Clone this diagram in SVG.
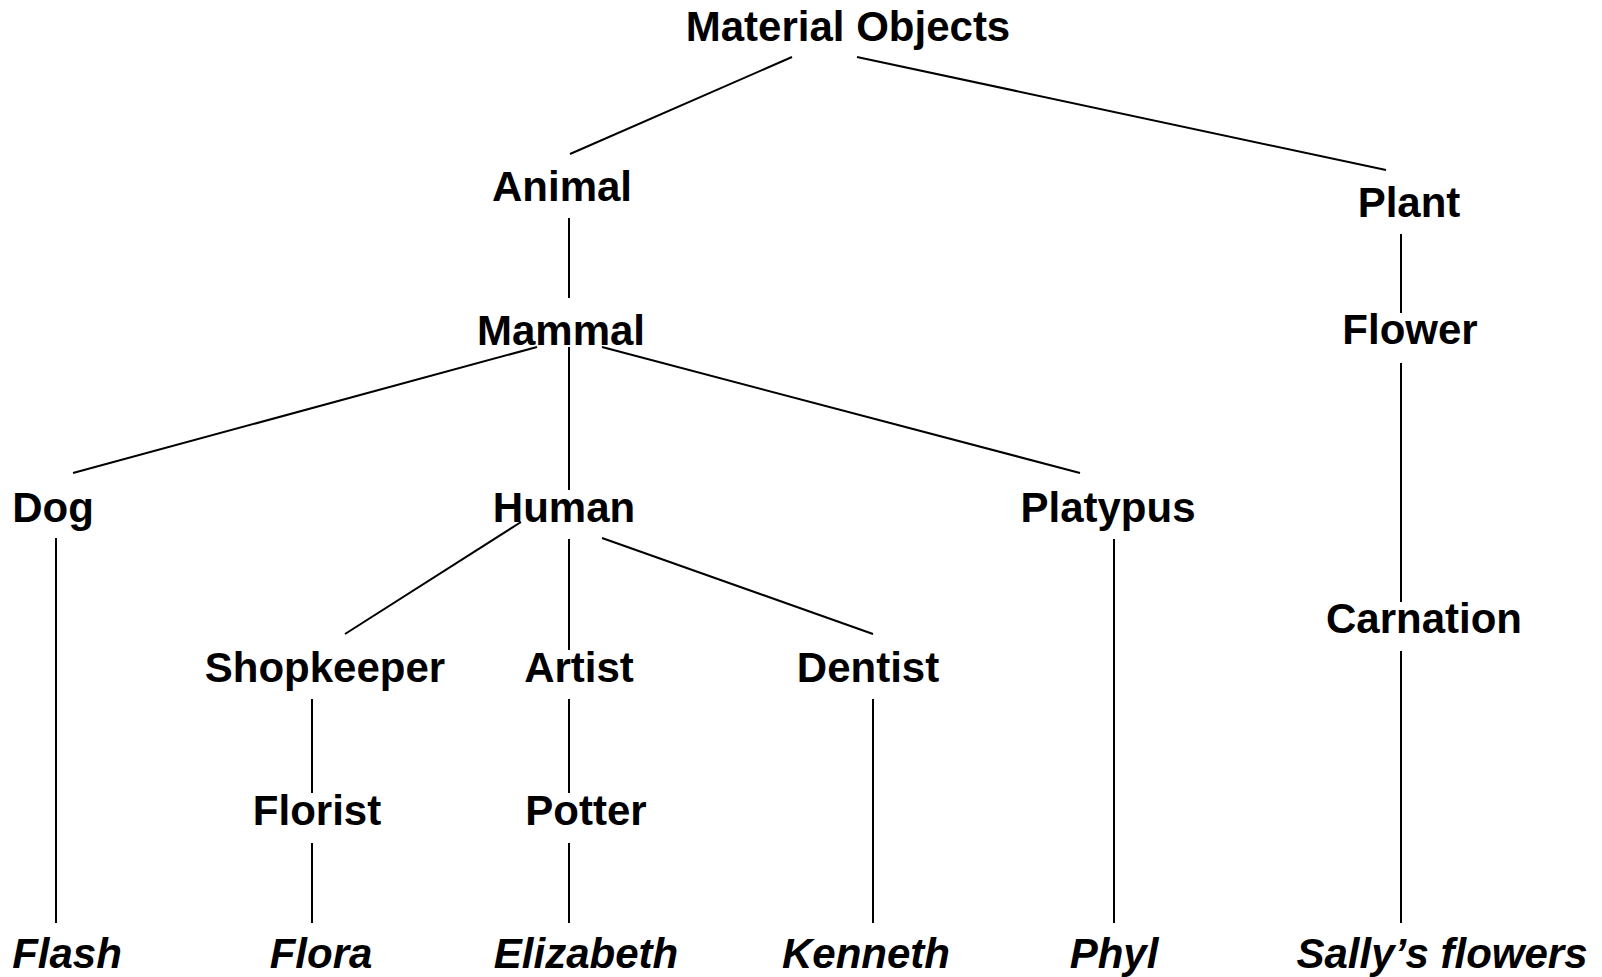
<svg xmlns="http://www.w3.org/2000/svg" width="1602" height="977" viewBox="0 0 1602 977">
<style>
text{font-family:"Liberation Sans",Arial,sans-serif;font-weight:bold;font-size:42px;fill:#000;text-anchor:middle}
.i{font-style:italic}
line{stroke:#000;stroke-width:2}
</style>
<rect width="1602" height="977" fill="#fff"/>
<g id="connectors">
<line x1="792" y1="57" x2="570" y2="154"/>
<line x1="857" y1="57" x2="1386" y2="170"/>
<line x1="569" y1="218" x2="569" y2="298"/>
<line x1="1401" y1="234" x2="1401" y2="313"/>
<line x1="1401" y1="363" x2="1401" y2="602"/>
<line x1="537" y1="347" x2="73" y2="473"/>
<line x1="569" y1="347" x2="569" y2="490"/>
<line x1="602" y1="347" x2="1080" y2="473"/>
<line x1="56" y1="538" x2="56" y2="923"/>
<line x1="521" y1="522" x2="345" y2="634"/>
<line x1="569" y1="539" x2="569" y2="650"/>
<line x1="602" y1="538" x2="873" y2="634"/>
<line x1="1114" y1="539" x2="1114" y2="923"/>
<line x1="312" y1="699" x2="312" y2="793"/>
<line x1="569" y1="699" x2="569" y2="793"/>
<line x1="873" y1="699" x2="873" y2="923"/>
<line x1="312" y1="843" x2="312" y2="923"/>
<line x1="569" y1="843" x2="569" y2="923"/>
<line x1="1401" y1="651" x2="1401" y2="923"/>
</g>
<g id="material-objects"><text x="848" y="41">Material Objects</text></g>
<g id="animal"><text x="562" y="201">Animal</text></g>
<g id="plant"><text x="1409" y="217">Plant</text></g>
<g id="mammal"><text x="561" y="345">Mammal</text></g>
<g id="flower"><text x="1410" y="344">Flower</text></g>
<g id="dog"><text x="53" y="522">Dog</text></g>
<g id="human"><text x="564" y="522">Human</text></g>
<g id="platypus"><text x="1108" y="522">Platypus</text></g>
<g id="carnation"><text x="1424" y="633">Carnation</text></g>
<g id="shopkeeper"><text x="325" y="682">Shopkeeper</text></g>
<g id="artist"><text x="579" y="682">Artist</text></g>
<g id="dentist"><text x="868" y="682">Dentist</text></g>
<g id="florist"><text x="317" y="825">Florist</text></g>
<g id="potter"><text x="586" y="825">Potter</text></g>
<g id="flash"><text class="i" x="67" y="968">Flash</text></g>
<g id="flora"><text class="i" x="321" y="968">Flora</text></g>
<g id="elizabeth"><text class="i" x="586" y="968">Elizabeth</text></g>
<g id="kenneth"><text class="i" x="866" y="968">Kenneth</text></g>
<g id="phyl"><text class="i" x="1114" y="968">Phyl</text></g>
<g id="sallys-flowers"><text class="i" x="1442" y="968">Sally’s flowers</text></g>
</svg>
